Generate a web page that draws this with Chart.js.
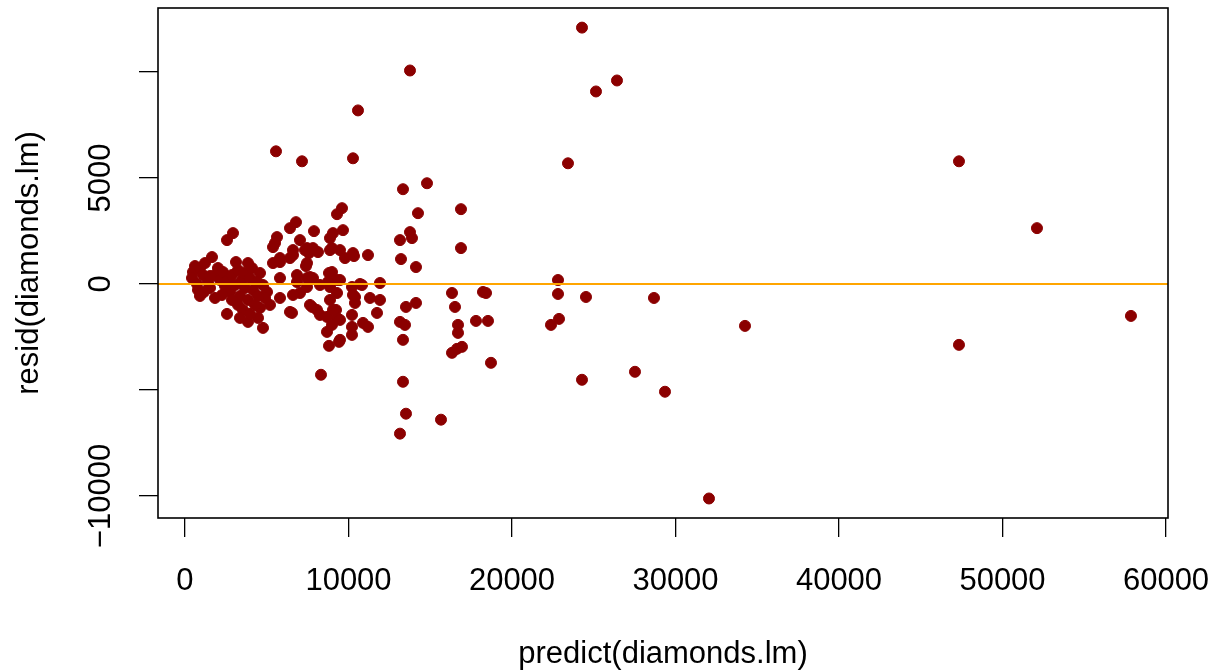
<!DOCTYPE html>
<html>
<head>
<meta charset="utf-8">
<script src="https://cdn.jsdelivr.net/npm/chart.js@4"></script>
<style>
  body { margin: 0; background: #fff; }
  canvas { display: block; }
</style>
</head>
<body>
<canvas id="plot" width="1215" height="670"></canvas>
<script>
// predict(diamonds.lm) vs resid(diamonds.lm)
const predicted = [
    24281, 13761, 26421, 25137, 10581, 5566, 7156, 10275, 23424, 47338,
    14801, 13333, 16880, 14250, 52108, 13761, 13883, 13149, 16880, 13211,
    14128, 22813, 11926, 16330, 18226, 18410, 22813, 24525, 28684, 14128,
    13516, 16513, 13149, 13455, 16697, 16697, 17798, 18531, 22874, 22385,
    34250, 57857, 13333, 16330, 16636, 16941, 47338, 18715, 27522, 8318,
    13333, 24281, 29357, 13516, 15657, 13149, 32048, 11926, 11743, 11315,
    10887, 11192,
    9602, 9297, 7890, 9052, 9663, 8868, 7033, 6422, 6789, 7462,
    7584, 8134, 8868, 9480, 9786, 10275, 11192, 10336, 7400, 8807,
    9480, 10214, 10703, 10397, 10397, 9236, 9297, 9480, 10214, 10214,
    8685, 9419, 8807, 10214, 7645, 8073, 7462, 7033, 7645, 9297,
    8990, 10825, 9297, 8868, 10275, 8746, 9480, 7339,
    5627, 5504, 6422, 6605, 5810, 5382, 7462, 6850, 6544, 5382,
    4587, 6605, 7828, 8990, 6850, 7462, 7828, 8257, 8868, 5810,
    5015, 5199, 6422, 7767, 8257, 8685, 8990, 4770, 5810, 6605,
    4587, 9052, 5810, 4770, 4893, 4465,
    2569, 2936, 1651, 3853, 2569, 3853, 612, 489, 428, 734,
    917, 1223, 1101, 1407, 795, 1162, 1529, 1835, 2018, 2141,
    2324, 2446, 2630, 2752, 2875, 3058, 3241, 3364, 3486, 3608,
    3670, 3853, 3975, 4098, 4159, 4281, 4403, 3547, 3241, 2875,
    2263, 1835, 1529, 917, 3119, 4465, 3975, 3364
];
const residuals = [
    12094, 10071, 9600, 9082, 8188, 6259, 5788, 5930, 5694, 5788,
    4753, 4471, 3530, 3341, 2635, 2447, 2165, 2071, 1694, 1176,
    800, 188, 47, -424, -376, -424, -470, -612, -659, -894,
    -1082, -1082, -1788, -1929, -1929, -2306, -1741, -1741, -1647, -1929,
    -1976, -1506, -2635, -3247, -3059, -2965, -2871, -3718, -4141, -4282,
    -4612, -4518, -5082, -6118, -6400, -7059, -10118, -753, -1365, -659,
    -1835, -2024,
    3577, 3294, 2494, 2400, 2541, 2165, 2071, 2635, 2918, 1694,
    1459, 1506, 1600, 1600, 1224, 1459, 1365, 1318, 847, 518,
    188, -141, 0, -612, -894, -1224, -1600, -1694, -1459, -2024,
    -2259, -2730, -2918, -2400, -988, -1224, -141, -424, 329, 188,
    565, -47, -424, -753, -518, 94, -2635, 1600,
    2212, 1929, 1224, 1600, 1035, 988, 988, 94, -1365, 1741,
    518, 1365, 1694, 1694, 424, 282, 282, -47, -141, 282,
    -376, -988, -1318, -1082, -1459, -1553, -1929, -2071, -659, -518,
    -1129, -1224, 1224, -47, -659, -1600,
    2071, 2400, 1271, 988, -1412, -1788, 847, 565, 282, 0,
    753, 988, 424, 94, -282, -376, -188, 424, 753, 188,
    565, -94, 188, -376, 424, -47, 659, -565, 188, 518,
    -188, -753, 282, 753, -282, -988, 94, -1224, -988, -753,
    -518, -659, 376, -565, 1035, -565, -1412, -1600
];

const xTicks = [0, 10000, 20000, 30000, 40000, 50000, 60000];
const yTicks = [-10000, -5000, 0, 5000, 10000];
const yTickLabels = ['\u221210000', '', '0', '5000', ''];
const xRange = [-1651, 60122];
const yRange = [-11038, 13019];

const FONT = '"Liberation Sans", Arial, Helvetica, sans-serif';
const points = predicted.map((p, i) => ({ x: p, y: residuals[i] }));

const boxPlugin = {
    id: 'rbox',
    afterDraw(chart) {
        const ctx = chart.ctx;
        const a = chart.chartArea;
        const ys = chart.scales.y;
        ctx.save();
        ctx.strokeStyle = '#000';
        ctx.lineWidth = 1.6;
        ctx.strokeRect(a.left, a.top, a.right - a.left, a.bottom - a.top);

        // R writes the y tick labels turned 90 degrees
        ctx.fillStyle = '#000';
        ctx.font = '31px ' + FONT;
        ctx.textAlign = 'center';
        ctx.textBaseline = 'middle';
        yTicks.forEach((v, i) => {
            if (!yTickLabels[i]) return;
            ctx.save();
            ctx.translate(101, ys.getPixelForValue(v));
            ctx.rotate(-Math.PI / 2);
            ctx.fillText(yTickLabels[i], 0, 0);
            ctx.restore();
        });
        ctx.restore();
    }
};

new Chart(document.getElementById('plot'), {
    type: 'scatter',
    data: {
        datasets: [
            {
                type: 'line',
                data: [{ x: xRange[0], y: 0 }, { x: xRange[1], y: 0 }],
                borderColor: '#FFA500',
                borderWidth: 2,
                pointRadius: 0,
                order: 0
            },
            {
                data: points,
                backgroundColor: '#8B0000',
                borderColor: '#8B0000',
                borderWidth: 1,
                pointRadius: 5.5,
                order: 1
            }
        ]
    },
    options: {
        responsive: false,
        animation: false,
        layout: { padding: { left: 0, top: 8, right: 47, bottom: 0 } },
        plugins: {
            legend: { display: false },
            tooltip: { enabled: false }
        },
        scales: {
            x: {
                type: 'linear',
                min: xRange[0],
                max: xRange[1],
                afterBuildTicks: s => { s.ticks = xTicks.map(v => ({ value: v })); },
                afterFit: s => { s.height = 152; s.paddingLeft = 0; s.paddingRight = 0; },
                border: { display: false },
                grid: { drawOnChartArea: false, drawTicks: true, tickLength: 19, color: '#000', lineWidth: 1.3 },
                ticks: {
                    color: '#000',
                    padding: 26,
                    maxRotation: 0,
                    font: { family: FONT, size: 31 },
                    callback: v => String(v)
                },
                title: {
                    display: true,
                    text: 'predict(diamonds.lm)',
                    color: '#000',
                    font: { family: FONT, size: 31, lineHeight: 1 },
                    padding: { top: 0, bottom: 0 }
                }
            },
            y: {
                type: 'linear',
                min: yRange[0],
                max: yRange[1],
                afterBuildTicks: s => { s.ticks = yTicks.map(v => ({ value: v })); },
                afterFit: s => { s.width = 158; s.paddingTop = 0; s.paddingBottom = 0; },
                border: { display: false },
                grid: { drawOnChartArea: false, drawTicks: true, tickLength: 19, color: '#000', lineWidth: 1.3 },
                ticks: { display: false },
                title: {
                    display: true,
                    text: 'resid(diamonds.lm)',
                    color: '#000',
                    font: { family: FONT, size: 31, lineHeight: 1 },
                    padding: { top: 14, bottom: 0 }
                }
            }
        }
    },
    plugins: [boxPlugin]
});
</script>
</body>
</html>
